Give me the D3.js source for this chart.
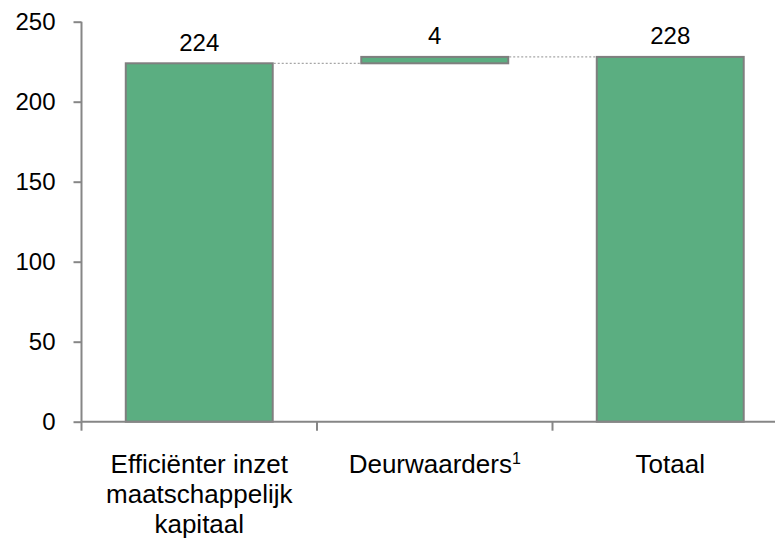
<!DOCTYPE html>
<html>
<head>
<meta charset="utf-8">
<script src="https://cdn.jsdelivr.net/npm/d3@7"></script>
<style>
  html, body { margin: 0; padding: 0; background: #fff; }
  svg { display: block; font-family: "Liberation Sans", Arial, sans-serif; }
</style>
</head>
<body>
<svg id="chart" width="775" height="539"></svg>
<script>
// ---- data ----
const categories = ["Efficiënter inzet maatschappelijk kapitaal", "Deurwaarders", "Totaal"];
const categoryLines = [["Efficiënter inzet", "maatschappelijk", "kapitaal"], ["Deurwaarders"], ["Totaal"]];
const categorySup = ["", "1", ""];
const barKinds = ["total", "delta", "total"];
const values = [224, 4, 228];
const yTicks = [0, 50, 100, 150, 200, 250];

// ---- layout ----
const W = 775, H = 539;
const plotLeft = 81.5, plotTop = 21.7, plotBottom = 421.7, plotRightEnd = 788;
const svg = d3.select("#chart");

const x = d3.scaleBand().domain(categories).range([plotLeft, plotRightEnd]).paddingInner(0.376).paddingOuter(0.188);
const y = d3.scaleLinear().domain([0, 250]).range([plotBottom, plotTop]);

// compute waterfall extents
let run = 0;
const bars = categories.map((c, i) => {
  let y0, y1;
  if (barKinds[i] === "total") { y0 = 0; y1 = values[i]; run = values[i]; }
  else { y0 = run; y1 = run + values[i]; run = y1; }
  return { c, y0, y1, v: values[i] };
});

const axisColor = "#868686";

// Connectors
for (let i = 0; i < bars.length - 1; i++) {
  const lvl = Math.max(bars[i].y1, bars[i].y0);
  svg.append("line")
    .attr("x1", x(bars[i].c) + x.bandwidth() + 1)
    .attr("x2", x(bars[i + 1].c) - 1)
    .attr("y1", y(lvl)).attr("y2", y(lvl))
    .attr("stroke", "#a6a6a6").attr("stroke-width", 1.2)
    .attr("stroke-dasharray", "2,2");
}

// Bars
svg.selectAll("rect.bar").data(bars).enter().append("rect")
  .attr("class", "bar")
  .attr("x", d => x(d.c))
  .attr("width", x.bandwidth())
  .attr("y", d => y(d.y1))
  .attr("height", d => y(d.y0) - y(d.y1))
  .attr("fill", "#5bae81")
  .attr("stroke", "#7f7f7f")
  .attr("stroke-width", 2);

// Value labels
svg.selectAll("text.val").data(bars).enter().append("text")
  .attr("class", "val")
  .attr("x", d => x(d.c) + x.bandwidth() / 2)
  .attr("y", d => y(d.y1) - 12.5)
  .attr("text-anchor", "middle")
  .attr("font-size", 24)
  .attr("fill", "#000")
  .text(d => d.v);

// Y axis
const yAxis = svg.append("g")
  .attr("transform", `translate(${plotLeft},0)`)
  .call(d3.axisLeft(y).tickValues(yTicks).tickSize(8).tickPadding(18));
yAxis.select(".domain").attr("stroke", axisColor).attr("stroke-width", 2).attr("d", `M0,${plotTop}V${plotBottom}`);
yAxis.selectAll(".tick line").attr("stroke", axisColor).attr("stroke-width", 2);
yAxis.selectAll(".tick text").attr("font-size", 24).attr("fill", "#000")
  .attr("font-family", "Liberation Sans, Arial, sans-serif");

// X axis
const xAxis = svg.append("g")
  .attr("transform", `translate(0,${plotBottom})`)
  .call(d3.axisBottom(x).tickSize(0).tickFormat(""));
xAxis.select(".domain").attr("stroke", axisColor).attr("stroke-width", 2).attr("d", `M${plotLeft},0H${W}`);
// boundary ticks
const step = x.step();
const boundaries = categories.map(c => x(c) - step * x.paddingInner() / 2);
xAxis.selectAll("line.bnd").data(boundaries).enter().append("line")
  .attr("class", "bnd")
  .attr("x1", d => d).attr("x2", d => d)
  .attr("y1", 0).attr("y2", 9)
  .attr("stroke", axisColor).attr("stroke-width", 2);

// Category labels
categories.forEach((c, i) => {
  const cx = x(c) + x.bandwidth() / 2;
  const t = svg.append("text")
    .attr("x", cx).attr("y", 473)
    .attr("text-anchor", "middle")
    .attr("font-size", 26)
    .attr("fill", "#000");
  categoryLines[i].forEach((ln, j) => {
    t.append("tspan").attr("x", cx).attr("dy", j === 0 ? 0 : 30).text(ln);
  });
  if (categorySup[i]) {
    t.append("tspan").attr("font-size", 16).attr("dy", -9).text(categorySup[i]);
  }
});
</script>
</body>
</html>
